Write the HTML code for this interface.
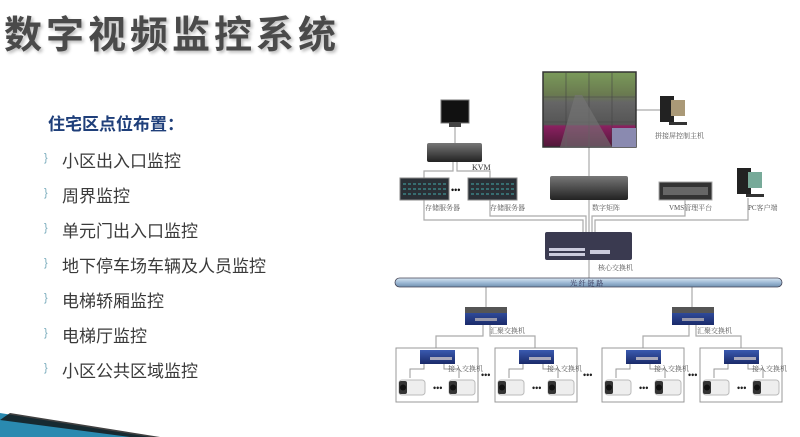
<!DOCTYPE html>
<html><head><meta charset="utf-8"><style>
html,body{margin:0;padding:0;background:#fff;}
body{width:800px;height:437px;position:relative;overflow:hidden;font-family:"Liberation Sans","Noto Sans CJK SC",sans-serif;}
.t{position:absolute;left:4px;top:4px;font-size:38px;font-weight:bold;color:#4a4a4a;letter-spacing:4px;text-shadow:2px 2px 3px #bbb;white-space:nowrap;}
.s{position:absolute;left:48px;top:110px;font-size:17px;font-weight:bold;color:#1f3f7a;}
.li{position:absolute;left:62px;font-size:17px;color:#3a3a3a;white-space:nowrap;}
.b{position:absolute;left:44px;font-size:11px;color:#7ab;}
</style></head><body>
<div class="t">数字视频监控系统</div>
<div class="s">住宅区点位布置：</div>
<div class="b" style="top:152px">}</div><div class="li" style="top:147px">小区出入口监控</div>
<div class="b" style="top:187px">}</div><div class="li" style="top:182px">周界监控</div>
<div class="b" style="top:222px">}</div><div class="li" style="top:217px">单元门出入口监控</div>
<div class="b" style="top:257px">}</div><div class="li" style="top:252px">地下停车场车辆及人员监控</div>
<div class="b" style="top:292px">}</div><div class="li" style="top:287px">电梯轿厢监控</div>
<div class="b" style="top:327px">}</div><div class="li" style="top:322px">电梯厅监控</div>
<div class="b" style="top:362px">}</div><div class="li" style="top:357px">小区公共区域监控</div>
<svg width="800" height="437" style="position:absolute;left:0;top:0" font-family="Liberation Serif,Noto Serif CJK SC,serif">
<defs>
<linearGradient id="wall" x1="0" y1="0" x2="0" y2="1"><stop offset="0" stop-color="#7a9a5a"/><stop offset="0.3" stop-color="#6a7a50"/><stop offset="0.4" stop-color="#666"/><stop offset="0.7" stop-color="#555"/><stop offset="0.72" stop-color="#8a2060"/><stop offset="1" stop-color="#501838"/></linearGradient>
<linearGradient id="bar" x1="0" y1="0" x2="0" y2="1"><stop offset="0" stop-color="#d8e6f2"/><stop offset="0.5" stop-color="#9fbbd6"/><stop offset="1" stop-color="#6f8fb0"/></linearGradient>
<linearGradient id="dev" x1="0" y1="0" x2="0" y2="1"><stop offset="0" stop-color="#777"/><stop offset="1" stop-color="#222"/></linearGradient>
<linearGradient id="blue" x1="0" y1="0" x2="0" y2="1"><stop offset="0" stop-color="#3a5ab0"/><stop offset="1" stop-color="#1a2a6a"/></linearGradient>
<g id="cam"><rect x="0" y="0" width="26" height="15" rx="3" fill="#eee" stroke="#bbb"/><rect x="0" y="1" width="8" height="13" rx="2" fill="#333"/><circle cx="4" cy="7.5" r="3" fill="#111"/></g>
<g id="box"><rect x="0" y="0" width="82" height="54" fill="#fff" stroke="#999"/>
<rect x="24" y="2" width="35" height="14" fill="url(#blue)"/><rect x="34" y="9" width="22" height="3" fill="#aab"/>
<polyline points="28,16 28,21 14,21 14,30" fill="none" stroke="#999"/><polyline points="48,16 48,21 63,21 63,30" fill="none" stroke="#999"/>
<text x="52" y="23" font-size="7" fill="#555">接入交换机</text>
<use href="#cam" x="3" y="32"/><use href="#cam" x="53" y="32"/>
<text x="37" y="43" font-size="9" font-weight="bold" fill="#222">•••</text></g>
<g id="agg"><rect x="0" y="0" width="42" height="18" fill="url(#blue)"/><rect x="0" y="0" width="42" height="6" fill="#555"/><rect x="10" y="11" width="22" height="3" fill="#99a"/></g>
</defs>
<polygon points="0,413 150,437 0,437" fill="#2a8ab0"/><polygon points="0,420 130,437 160,437 10,413" fill="#111" opacity="0.8"/>
<g stroke="#aaa" stroke-width="1.2" fill="none">
<line x1="455" y1="127" x2="455" y2="143"/>
<polyline points="453,162 453,171 424,171 424,178"/><polyline points="457,162 457,171 490,171 490,178"/>
<line x1="589" y1="147" x2="589" y2="176"/><line x1="636" y1="110" x2="660" y2="110"/>
<polyline points="424,200 424,220 583,220 583,232"/><polyline points="490,200 490,216 586,216 586,232"/>
<line x1="589" y1="200" x2="589" y2="232"/><polyline points="685,200 685,216 592,216 592,232"/><polyline points="748,198 748,220 595,220 595,232"/>
<line x1="589" y1="260" x2="589" y2="278"/>
<line x1="486" y1="287" x2="486" y2="307"/><line x1="692" y1="287" x2="692" y2="307"/>
<polyline points="483,325 483,336 436,336 436,348"/><polyline points="490,325 490,336 535,336 535,348"/>
<polyline points="689,325 689,336 643,336 643,348"/><polyline points="696,325 696,336 741,336 741,348"/>
</g>
<rect x="543" y="72" width="93" height="75" fill="url(#wall)" stroke="#333" stroke-width="1.5"/>
<g stroke="#444" stroke-width="0.6"><line x1="566" y1="72" x2="566" y2="147"/><line x1="589" y1="72" x2="589" y2="147"/><line x1="612" y1="72" x2="612" y2="147"/><line x1="543" y1="97" x2="636" y2="97"/><line x1="543" y1="122" x2="636" y2="122"/></g>
<polygon points="560,147 575,95 582,95 612,147" fill="#777" opacity="0.6"/>
<rect x="612" y="128" width="24" height="19" fill="#8a8ab0"/>
<rect x="441" y="100" width="28" height="23" fill="#111" stroke="#777"/><rect x="449" y="123" width="12" height="4" fill="#444"/>
<rect x="427" y="143" width="55" height="19" rx="2" fill="url(#dev)"/>
<text x="472" y="170" font-size="8" fill="#333">KVM</text>
<g><rect x="400" y="178" width="49" height="22" fill="#2a3036"/><rect x="400" y="178" width="49" height="22" fill="none" stroke="#888"/>
<g stroke="#4aa" stroke-width="1"><line x1="403" y1="184" x2="446" y2="184" stroke-dasharray="3,2"/><line x1="403" y1="189" x2="446" y2="189" stroke-dasharray="3,2"/><line x1="403" y1="194" x2="446" y2="194" stroke-dasharray="3,2"/></g></g>
<g><rect x="468" y="178" width="49" height="22" fill="#2a3036"/><rect x="468" y="178" width="49" height="22" fill="none" stroke="#888"/>
<g stroke="#4aa" stroke-width="1"><line x1="471" y1="184" x2="514" y2="184" stroke-dasharray="3,2"/><line x1="471" y1="189" x2="514" y2="189" stroke-dasharray="3,2"/><line x1="471" y1="194" x2="514" y2="194" stroke-dasharray="3,2"/></g></g>
<text x="451" y="193" font-size="9" font-weight="bold" fill="#111">•••</text>
<text x="425" y="210" font-size="7" fill="#555">存储服务器</text><text x="490" y="210" font-size="7" fill="#555">存储服务器</text>
<rect x="550" y="176" width="78" height="24" rx="2" fill="url(#dev)"/>
<text x="592" y="210" font-size="7" fill="#555">数字矩阵</text>
<rect x="659" y="182" width="53" height="18" fill="#333" stroke="#aaa"/><rect x="663" y="187" width="45" height="8" fill="#666"/>
<text x="669" y="210" font-size="7" fill="#555">VMS管理平台</text>
<rect x="737" y="168" width="14" height="26" fill="#222"/><rect x="748" y="172" width="14" height="16" fill="#7a9" /><rect x="746" y="194" width="18" height="3" fill="#333"/>
<text x="748" y="210" font-size="7" fill="#555">PC客户端</text>
<rect x="660" y="96" width="14" height="26" fill="#222"/><rect x="671" y="100" width="14" height="16" fill="#a97"/><rect x="669" y="122" width="18" height="3" fill="#333"/>
<text x="655" y="138" font-size="7" fill="#555">拼接屏控制主机</text>
<rect x="545" y="232" width="87" height="28" rx="2" fill="#3a3a50"/><g fill="#ccd"><rect x="549" y="248" width="36" height="3"/><rect x="549" y="253" width="36" height="3"/><rect x="590" y="250" width="20" height="4"/></g>
<text x="598" y="270" font-size="7" fill="#555">核心交换机</text>
<rect x="395" y="278" width="387" height="9" rx="4.5" fill="url(#bar)" stroke="#445" stroke-width="0.8"/>
<text x="570" y="285.5" font-size="7" fill="#335">光 纤 链 路</text>
<use href="#agg" x="465" y="307"/><use href="#agg" x="672" y="307"/>
<text x="490" y="333" font-size="7" fill="#555">汇聚交换机</text><text x="697" y="333" font-size="7" fill="#555">汇聚交换机</text>
<use href="#box" x="396" y="348"/><use href="#box" x="495" y="348"/><use href="#box" x="602" y="348"/><use href="#box" x="700" y="348"/>
<g font-size="9" font-weight="bold" fill="#222"><text x="481" y="378">•••</text><text x="583" y="378">•••</text><text x="688" y="378">•••</text></g>
</svg>
</body></html>
